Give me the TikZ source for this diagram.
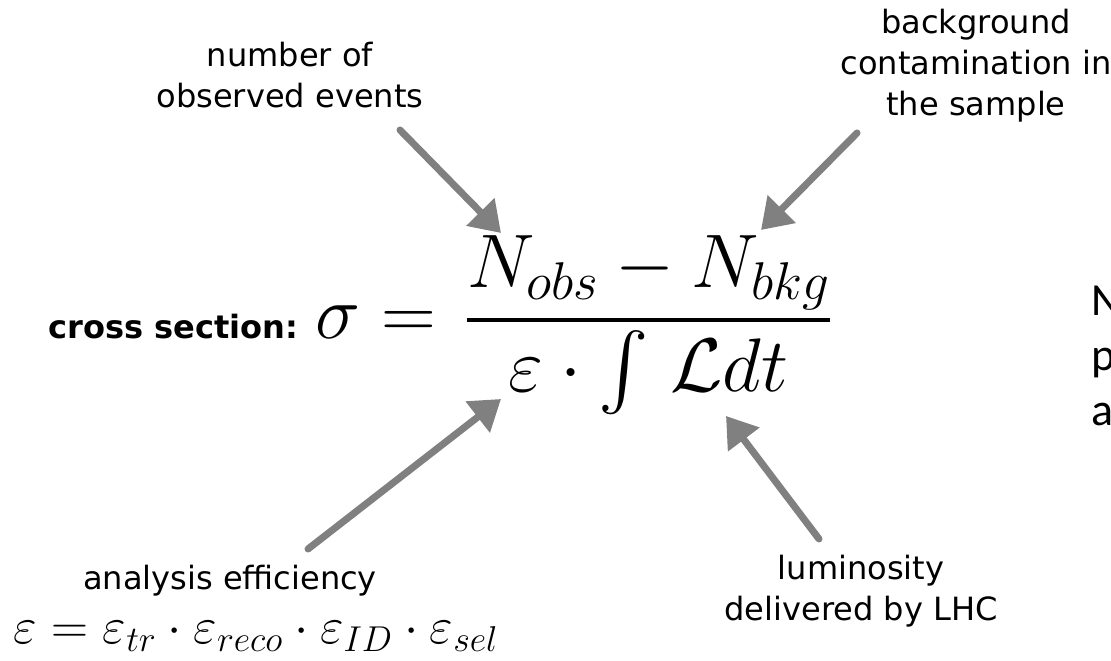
\RequirePackage{fix-cm}
\documentclass[tikz,border=0pt]{standalone}
\usepackage{amsmath}
\usepackage{fontspec}
\newfontfamily\labelfont{DejaVu Sans}
\newfontfamily\slidefont{Carlito}
\DeclareFontFamily{OMX}{cmex}{}
\DeclareFontShape{OMX}{cmex}{m}{n}{<->cmex10}{}
\DeclareSymbolFont{largesymbols}{OMX}{cmex}{m}{n}
\usetikzlibrary{arrows.meta}

\begin{document}
\begin{tikzpicture}[every node/.style={inner sep=0pt}]
  \tikzset{lbl/.style={font=\labelfont\fontsize{22.8}{29.2}\selectfont, align=center}}
  \tikzset{eq/.style={font=\fontsize{54}{64}\selectfont}}
  \tikzset{P/.style={draw={rgb,255:red,128;green,128;blue,128}, line width=5pt, line cap=round, -{Triangle[length=21pt,width=27pt]}}}
  \useasboundingbox (0,0) rectangle (27.775,16.525);
  \node[lbl, anchor=north] (obs) at (7.2500, 15.4750) {number of\\observed events};
  \node[lbl, anchor=north] (bkg) at (24.4000, 16.3000) {background\\contamination in\\the sample};
  \node[lbl, anchor=north] (eff) at (5.7500, 2.4000) {analysis efficiency};
  \node[lbl, anchor=north] (lumi) at (21.5250, 2.6500) {luminosity\\delivered by LHC};
  \node[font=\fontsize{36.5}{44}\selectfont, anchor=base] (effdef) at (6.4000, 0.4300) {$\varepsilon = \varepsilon_{tr} \cdot \varepsilon_{reco} \cdot \varepsilon_{ID} \cdot \varepsilon_{sel}$};
  \node[font=\labelfont\bfseries\fontsize{22.8}{29.2}\selectfont, anchor=base west] (xlab) at (1.2000, 8.0500) {cross section:};
  \node[eq, anchor=base west] (xsec) at (7.8750, 8.0500) {$\sigma = \mkern2mu \dfrac{N_{obs} - N_{bkg}}{\varepsilon \cdot \int \mkern2mu \mathcal{L} dt}$};
  \node[font=\slidefont\fontsize{32.7}{39}\selectfont, align=left, anchor=north west] (slide) at (27.2750, 9.3750) {N\\p\\a};
  % pointers
  \coordinate (obsTail) at (10.0000, 13.2750);
  \coordinate (obsTip) at (12.5250, 10.7000);
  \coordinate (bkgTail) at (21.4250, 13.2000);
  \coordinate (bkgTip) at (19.0250, 10.7750);
  \coordinate (effTail) at (7.7000, 2.8000);
  \coordinate (effTip) at (12.5250, 6.5500);
  \coordinate (lumiTail) at (20.4750, 3.0500);
  \coordinate (lumiTip) at (18.1500, 6.1250);
  \draw[P] (obsTail) -- (obsTip);
  \draw[P] (bkgTail) -- (bkgTip);
  \draw[P] (effTail) -- (effTip);
  \draw[P] (lumiTail) -- (lumiTip);
\end{tikzpicture}
\end{document}
